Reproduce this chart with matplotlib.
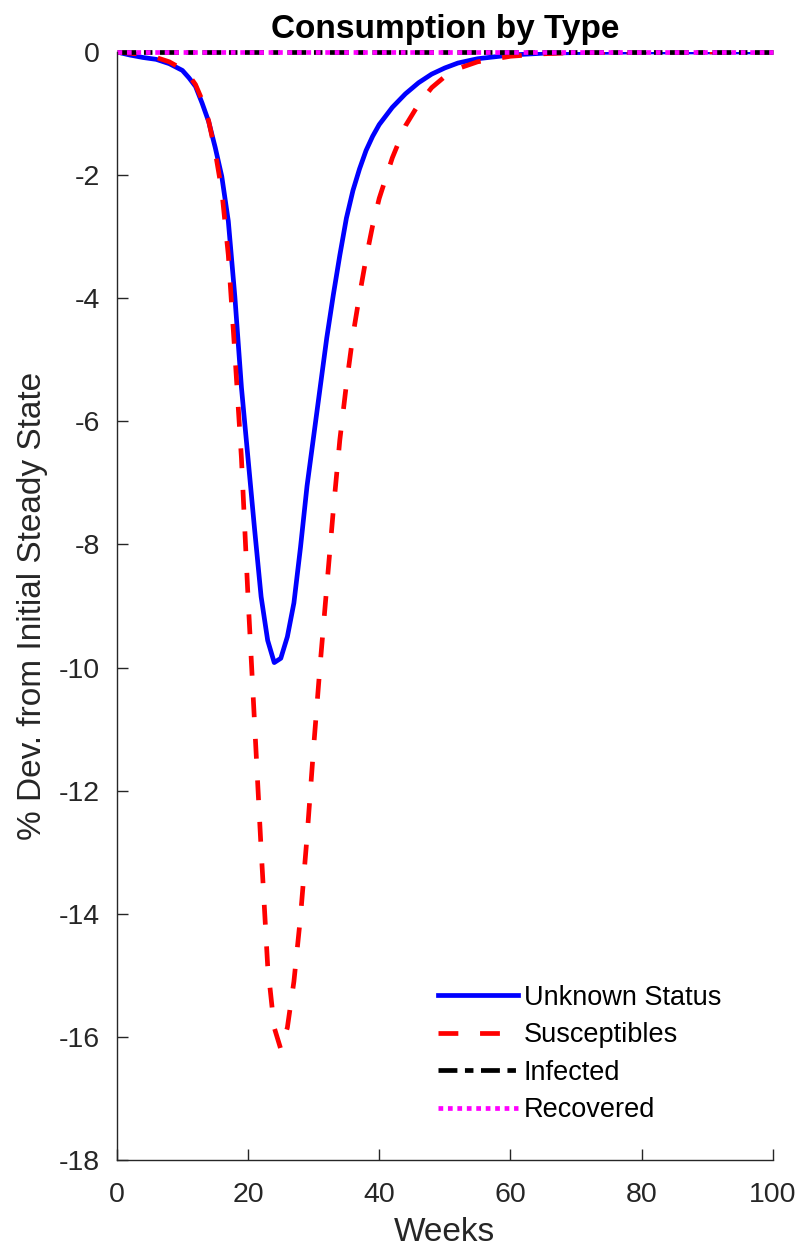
import matplotlib
matplotlib.use('Agg')
import matplotlib.pyplot as plt

plt.rcParams['font.family'] = ['Liberation Sans', 'DejaVu Sans']
plt.rcParams['axes.unicode_minus'] = False

weeks = [0, 2, 4, 6, 8, 10,
         11, 12, 13, 14, 15, 16, 17, 18, 19, 20,
         21, 22, 23, 24, 25, 26, 27, 28, 29, 30,
         31, 32, 33, 34, 35, 36, 37, 38, 39, 40,
         42, 44, 46, 48, 50, 52, 55, 60, 65, 70, 80, 90, 100]

unknown = [0, -0.05, -0.09, -0.12, -0.19, -0.30,
           -0.42, -0.56, -0.83, -1.13, -1.55, -2.02, -2.75, -3.98, -5.45, -6.6,
           -7.75, -8.85, -9.56, -9.92, -9.85, -9.5, -8.95, -8.05, -7.05, -6.25,
           -5.45, -4.65, -3.95, -3.3, -2.7, -2.25, -1.9, -1.6, -1.37, -1.18,
           -0.9, -0.68, -0.5, -0.36, -0.26, -0.18, -0.11, -0.05, -0.02, -0.01, 0, 0, 0]

susceptibles = [0, -0.02, -0.04, -0.09, -0.16, -0.28,
                -0.38, -0.53, -0.78, -1.12, -1.62, -2.25, -3.3, -4.9, -6.6, -8.85,
                -10.9, -12.95, -14.85, -15.85, -16.2, -15.85, -15.1, -14.05, -12.75, -11.3,
                -9.95, -8.7, -7.45, -6.3, -5.4, -4.6, -3.95, -3.35, -2.82, -2.38,
                -1.72, -1.2, -0.85, -0.58, -0.4, -0.27, -0.16, -0.07, -0.03, -0.01, 0, 0, 0]

infected = [0.0] * len(weeks)
recovered = [0.0] * len(weeks)

fig = plt.figure(figsize=(8, 12.52), dpi=100)
ax = fig.add_axes([0.146, 0.0735, 0.82, 0.885])

lw = 3.4
ax.plot(weeks, unknown, color='#0000ff', lw=lw, label='Unknown Status')
ax.plot(weeks, susceptibles, color='#ff0000', lw=lw, dashes=(4.2, 4.6), label='Susceptibles')
ax.plot(weeks, infected, color='black', lw=lw, dashes=(4, 1.6, 1.8, 1.6),
        label='Infected', clip_on=False)
ax.plot(weeks, recovered, color='#ff00ff', lw=lw, dashes=(1.0, 1.0),
        label='Recovered', clip_on=False)

ax.set_xlim(0, 100)
ax.set_ylim(-18, 0)
ax.set_xticks(range(0, 101, 20))
ax.set_yticks(range(-18, 1, 2))

for side in ['top', 'right']:
    ax.spines[side].set_visible(False)
for side in ['left', 'bottom']:
    ax.spines[side].set_color('#262626')
    ax.spines[side].set_linewidth(1.0)
ax.tick_params(direction='in', length=8, width=1.0, colors='#262626',
               labelsize=20.5, labelcolor='#262626')
ax.tick_params(axis='x', pad=16)
ax.tick_params(axis='y', pad=12)

ax.set_title('Consumption by Type', fontsize=24, fontweight='bold', pad=10)
ax.set_xlabel('Weeks', fontsize=24, color='#262626', labelpad=6)
ax.set_ylabel('% Dev. from Initial Steady State', fontsize=24, color='#262626', labelpad=8)

ax.legend(loc='upper left', bbox_to_anchor=(0.452, 0.18), frameon=False,
          fontsize=19.5, handlelength=2.95, handletextpad=0.22, labelspacing=0.42)

fig.savefig('out.png', dpi=100)
plt.close(fig)
